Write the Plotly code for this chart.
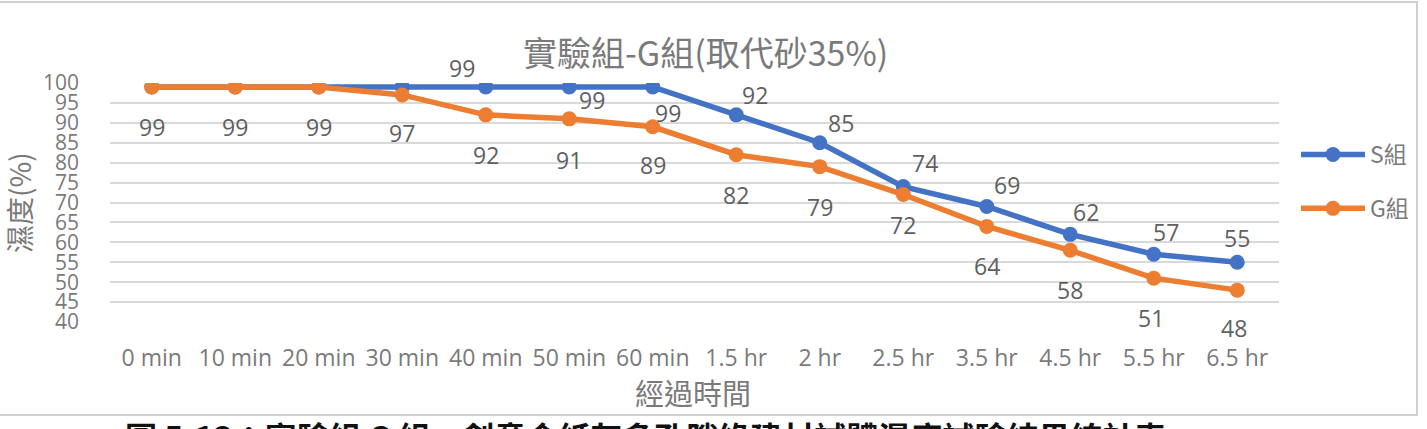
import plotly.graph_objects as go

categories = ["0 min", "10 min", "20 min", "30 min", "40 min", "50 min", "60 min",
              "1.5 hr", "2 hr", "2.5 hr", "3.5 hr", "4.5 hr", "5.5 hr", "6.5 hr"]
s_values = [99, 99, 99, 99, 99, 99, 99, 92, 85, 74, 69, 62, 57, 55]
g_values = [99, 99, 99, 97, 92, 91, 89, 82, 79, 72, 64, 58, 51, 48]
y_ticks = list(range(40, 101, 5))

# label offsets (pixels) for data labels
s_label_shown = [False, False, False, False, True, True, True, True, True, True, True, True, True, True]
s_dx = [0, 0, 0, 0, -24, 23, 15, 19, 21, 22, 20, 16, 12, 0]
s_dy = [0, 0, 0, 0, 19, -13, -26, 20, 20, 24, 21, 22, 22, 24]
g_dx = [0, 0, 0, 0, 0, 0, 0, 0, 0, 0, 0, 0, -3, -3]
g_dy = [-40, -40, -40, -38, -40, -41, -38, -40, -40, -30, -40, -40, -40, -38]

BLUE = "#4472C4"
ORANGE = "#ED7D31"
AXIS_TXT = "#7a7a7a"
LBL_TXT = "#5f5f5f"
FONT = "Open Sans"
CJK = "Noto Sans CJK TC"

fig = go.Figure()
fig.add_trace(go.Scatter(x=categories, y=s_values, name="S組", mode="lines+markers",
                         legendgroup="s",
                         line=dict(color=BLUE, width=5.5),
                         marker=dict(color=BLUE, size=15)))
fig.add_trace(go.Scatter(x=categories, y=g_values, name="G組", mode="lines+markers",
                         legendgroup="g",
                         line=dict(color=ORANGE, width=5.5),
                         marker=dict(color=ORANGE, size=15)))

annotations = []
for i, (c, v) in enumerate(zip(categories, s_values)):
    if s_label_shown[i]:
        annotations.append(dict(x=c, y=v, xref="x", yref="y", text=str(v), showarrow=False,
                                xshift=s_dx[i], yshift=s_dy[i],
                                font=dict(family=FONT, size=23, color=LBL_TXT)))
for i, (c, v) in enumerate(zip(categories, g_values)):
    annotations.append(dict(x=c, y=v, xref="x", yref="y", text=str(v), showarrow=False,
                            xshift=g_dx[i], yshift=g_dy[i],
                            font=dict(family=FONT, size=23, color=LBL_TXT)))

def px_x(p):
    return (p - 110) / 1169

def px_y(p):
    return (322 - p) / 239

# chart title and axis titles
annotations.append(dict(x=px_x(705), y=px_y(51), xref="paper", yref="paper",
                        xanchor="center", yanchor="middle",
                        text="實驗組-G組(取代砂35%)", showarrow=False,
                        font=dict(family=CJK + ", " + FONT, size=34, color=AXIS_TXT)))
annotations.append(dict(x=px_x(693), y=px_y(392), xref="paper", yref="paper",
                        xanchor="center", yanchor="middle",
                        text="經過時間", showarrow=False,
                        font=dict(family=CJK, size=29, color=AXIS_TXT)))
annotations.append(dict(x=px_x(19), y=px_y(203), xref="paper", yref="paper",
                        xanchor="center", yanchor="middle",
                        text="濕度(%)", showarrow=False, textangle=-90,
                        font=dict(family=CJK, size=28, color=AXIS_TXT)))
# caption below the chart (cut off by the image edge)
annotations.append(dict(x=px_x(645), y=px_y(411), xref="paper", yref="paper",
                        xanchor="center", yanchor="top",
                        text="<b>圖 5-13：實驗組 G 組、創意金紙灰多孔隙綠建材試體濕度試驗結果統計表</b>",
                        showarrow=False,
                        font=dict(family=CJK, size=32, color="#111111")))

fig.update_layout(
    width=1427, height=429,
    margin=dict(l=110, r=1427 - 1279, t=83, b=429 - 322, pad=0),
    paper_bgcolor="white", plot_bgcolor="white",
    showlegend=True,
    legend=dict(x=px_x(1296), y=px_y(133), xanchor="left", yanchor="top",
                font=dict(family=CJK, size=23, color=AXIS_TXT),
                itemwidth=64, tracegroupgap=21, traceorder="grouped",
                bgcolor="rgba(0,0,0,0)"),
    annotations=annotations,
    shapes=[dict(type="rect", xref="paper", yref="paper",
                 x0=px_x(-10), x1=px_x(1417),
                 y0=px_y(415), y1=px_y(2),
                 line=dict(color="#d0d0d0", width=2), fillcolor="rgba(0,0,0,0)", layer="below")],
    xaxis=dict(type="category", range=[-0.5, 13.5], showgrid=False, zeroline=False,
               showline=False, ticks="", ticklabelstandoff=20,
               tickfont=dict(family=FONT, size=23, color=AXIS_TXT)),
    yaxis=dict(range=[40, 100], tickvals=y_ticks, ticktext=[str(t) for t in y_ticks],
               showgrid=True, gridcolor="#d9d9d9", gridwidth=2, zeroline=False,
               showline=False, ticks="", ticklabelstandoff=30,
               tickfont=dict(family=FONT, size=21, color=AXIS_TXT)),
)

fig.write_html("out.html")
